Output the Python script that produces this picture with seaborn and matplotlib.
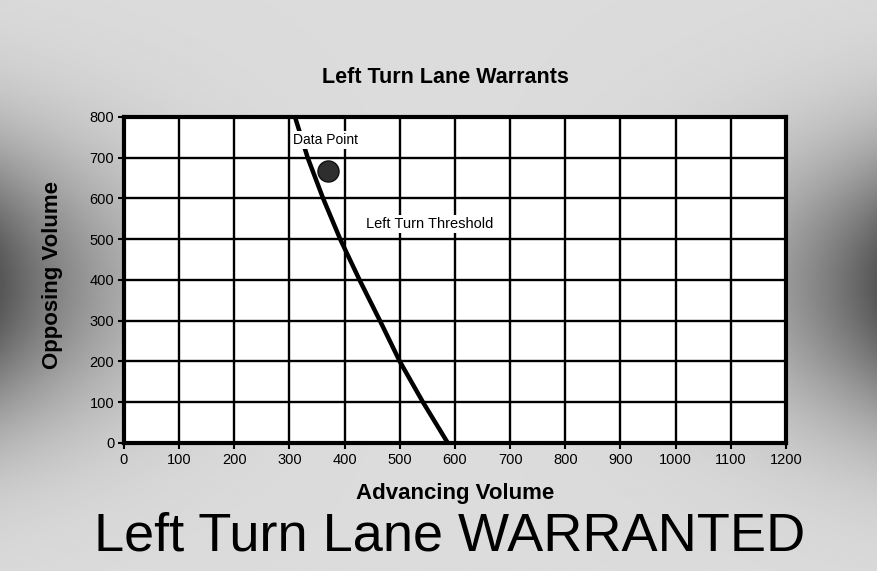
import numpy as np
import pandas as pd
import seaborn as sns
import matplotlib
matplotlib.use('Agg')
import matplotlib.pyplot as plt

# threshold curve (advancing vs opposing volume)
advancing = [310, 333, 361, 392, 427, 464, 500, 542, 587]
opposing = [800, 700, 600, 500, 400, 300, 200, 100, 0]

# the one observed intersection
point_adv = [370]
point_opp = [668]

x_ticks = list(range(0, 1201, 100))
y_ticks = list(range(0, 801, 100))

sns.set_style('white')
plt.rcParams['font.family'] = ['Liberation Sans', 'DejaVu Sans']
plt.rcParams['text.color'] = 'black'
plt.rcParams['axes.labelcolor'] = 'black'

fig = plt.figure(figsize=(8.78, 5.71), dpi=100)

# grey slide background, darker towards the left/right edges at mid height
bg = fig.add_axes([0, 0, 1, 1], zorder=-10)
gx, gy = np.meshgrid(np.linspace(-1, 1, 440), np.linspace(-1, 1, 290))
shade = 0.86 - 0.52 * np.abs(gx) ** 3 * np.exp(-(gy / 0.5) ** 2)
bg.imshow(shade, cmap='gray', vmin=0, vmax=1, aspect='auto', extent=[0, 1, 0, 1])
bg.set_axis_off()

ax = fig.add_axes([0.1412, 0.2242, 0.754, 0.571])
ax.set_facecolor('white')

curve = pd.DataFrame({'Advancing Volume': advancing, 'Opposing Volume': opposing})
pts = pd.DataFrame({'Advancing Volume': point_adv, 'Opposing Volume': point_opp})

sns.lineplot(data=curve, x='Advancing Volume', y='Opposing Volume', color='black',
             lw=3.2, estimator=None, ax=ax, zorder=3)
sns.scatterplot(data=pts, x='Advancing Volume', y='Opposing Volume', s=230,
                color='#2e2e2e', edgecolor='#111111', linewidth=1, ax=ax, zorder=4)

ax.set_xlim(0, 1200)
ax.set_ylim(0, 800)
ax.set_xticks(x_ticks)
ax.set_yticks(y_ticks)
ax.grid(True, color='black', lw=1.7)
ax.set_axisbelow(True)
for s in ax.spines.values():
    s.set_linewidth(3)
    s.set_color('black')
ax.tick_params(direction='out', length=4, width=1.5, colors='black',
               labelsize=10.5, pad=3, left=True, bottom=True)

ax.set_xlabel('Advancing Volume', fontsize=16, fontweight='bold')
ax.set_ylabel('Opposing Volume', fontsize=16, fontweight='bold')
ax.xaxis.set_label_coords(0.5, -0.122)
ax.yaxis.set_label_coords(-0.092, 0.515)

ax.text(366, 744, 'Data Point', fontsize=10, ha='center', va='center', zorder=5,
        bbox=dict(facecolor='white', edgecolor='none', pad=1.5))
ax.text(555, 537, 'Left Turn Threshold', fontsize=10.5, ha='center', va='center', zorder=5,
        bbox=dict(facecolor='white', edgecolor='none', pad=1.5))

fig.text(0.507, 0.865, 'Left Turn Lane Warrants', fontsize=15.5, fontweight='bold',
         ha='center', va='center')
fig.text(0.512, 0.06, 'Left Turn Lane WARRANTED', fontsize=39, ha='center', va='center')

fig.savefig('out.png', dpi=100)
